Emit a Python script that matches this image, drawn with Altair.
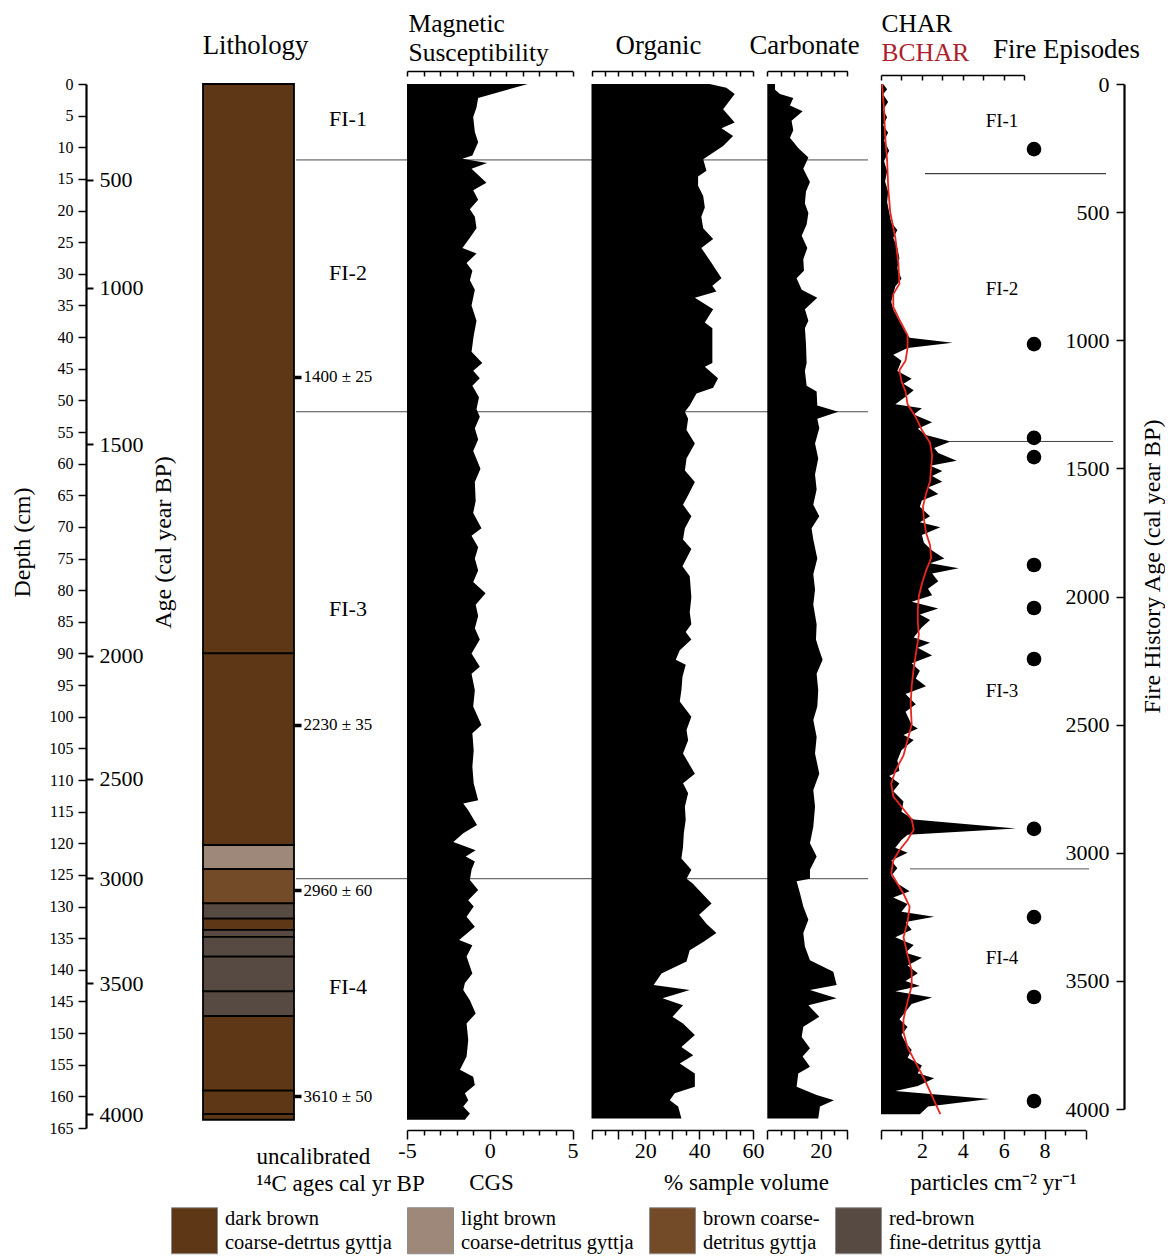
import altair as alt
import pandas as pd

FONT = "Liberation Serif"

# ---------------- data ----------------
depth_ticks = list(range(0, 166, 5))
age_tick_depths = [15.17, 32.24, 56.9, 90.4, 109.8, 125.5, 142.1, 162.8]
age_tick_labels = ["500", "1000", "1500", "2000", "2500", "3000", "3500", "4000"]
rc_depths = [46.3, 101.3, 127.4, 160.0]
rc_labels = ["1400 ± 25", "2230 ± 35", "2960 ± 60", "3610 ± 50"]
fire_age_ticks = list(range(0, 4001, 500))

lith_names = ["dark brown|coarse-detrtus gyttja", "light brown|coarse-detritus gyttja",
              "brown coarse-|detritus gyttja", "red-brown|fine-detritus gyttja"]
lith_colors = ["#5e3816", "#9d887a", "#744b29", "#574a42"]
lith_top = [0, 90.0, 120.3, 124.1, 129.5, 131.9, 133.7, 134.8, 137.9, 143.4, 147.3, 159.1, 162.8]
lith_bottom = [90.0, 120.3, 124.1, 129.5, 131.9, 133.7, 134.8, 137.9, 143.4, 147.3, 159.1, 162.8, 163.7]
lith_kind = [0, 0, 1, 2, 3, 0, 3, 3, 3, 3, 0, 0, 0]

zone_depths = [12.0, 51.8, 125.6]
zone_label_depths = [5.5, 29.9, 83.0, 142.7]
zone_labels = ["FI-1", "FI-2", "FI-3", "FI-4"]

ms_depth = [0, 2.2, 3.7, 5.2, 7.6, 9.2, 10.4, 11.3, 11.8, 12.5,
            13.4, 15.6, 16.8, 18.3, 19.8, 21.0, 22.8, 24.3, 25.9, 26.8,
            28.3, 29.5, 31.0, 32.5, 35.0, 37.4, 39.8, 42.3, 44.1, 45.3,
            46.5, 47.7, 49.5, 51.4, 52.6, 54.4, 56.2, 58.0, 60.8, 62.9,
            65.9, 67.8, 70.2, 71.4, 73.2, 75.0, 76.9, 78.7, 80.5, 82.3,
            84.1, 86.0, 87.8, 90.0, 92.1, 93.2, 95.8, 98.4, 101.3, 102.6,
            105.3, 107.9, 110.5, 113.2, 113.7, 114.8, 117.1, 118.4, 119.8, 121.1,
            122.1, 122.9, 124.2, 125.8, 127.4, 129.0, 130.0, 131.6, 133.2, 135.3,
            136.1, 137.9, 140.6, 142.1, 143.2, 144.8, 146.9, 148.5, 151.1, 153.7,
            155.8, 156.9, 158.2, 159.5, 160.6, 161.6, 162.7, 163.7]
ms_value = [2.3, -0.7, -0.8, -1.0, -0.9, -0.7, -0.9, -1.05, -1.65, -0.16,
            -1.1, -0.2, -1.0, -0.7, -1.2, -0.9, -0.8, -1.2, -1.65, -0.8,
            -1.4, -1.05, -1.2, -0.9, -1.1, -0.8, -0.97, -1.1, -0.45, -1.0,
            -0.6, -1.05, -0.65, -0.8, -0.6, -0.9, -0.7, -1.0, -0.56, -0.9,
            -0.85, -1.0, -0.5, -1.1, -0.7, -0.9, -0.7, -1.0, -0.25, -0.85,
            -0.7, -0.9, -0.6, -1.1, -0.6, -1.1, -0.9, -1.0, -0.5, -1.05,
            -0.97, -1.05, -0.97, -0.7, -1.6, -1.3, -0.77, -1.6, -2.2, -0.85,
            -1.45, -0.9, -1.1, -1.2, -0.7, -1.3, -0.97, -1.4, -0.9, -1.85,
            -1.05, -1.4, -1.05, -1.5, -1.6, -1.2, -0.85, -1.4, -1.3, -1.4,
            -1.8, -1.0, -0.9, -1.5, -1.3, -1.6, -1.2, -1.5]

org_depth = [0, 0.6, 1.6, 4.0, 6.1, 7.0, 8.2, 9.8, 11.9, 13.7,
             14.6, 16.1, 17.7, 19.5, 21.0, 22.8, 24.5, 25.9, 28.3, 30.7,
             31.9, 32.8, 33.8, 35.6, 37.7, 38.6, 40.7, 44.1, 44.7, 46.5,
             48.0, 48.9, 50.8, 51.8, 52.9, 54.7, 56.8, 59.2, 61.1, 62.9,
             65.0, 66.5, 68.3, 70.2, 72.0, 73.5, 76.2, 77.8, 81.1, 83.5,
             85.4, 86.6, 87.8, 89.5, 91.0, 91.8, 93.7, 95.8, 97.6, 100.0,
             102.1, 103.7, 105.8, 109.0, 110.5, 112.1, 114.2, 116.3, 118.4, 120.6,
             122.4, 124.2, 125.6, 126.3, 129.5, 131.3, 132.7, 134.2, 135.6, 136.9,
             138.7, 140.6, 142.4, 143.2, 144.5, 145.6, 147.4, 148.5, 150.3, 152.2,
             153.5, 154.8, 156.4, 158.5, 159.5, 160.6, 161.6, 163.5]
org_value = [43.9, 50.1, 53.2, 48.9, 53.2, 48.3, 52.6, 48.9, 41.5, 42.7,
             39.6, 39.6, 41.5, 42.1, 40.8, 41.5, 45.2, 40.8, 44.6, 48.3,
             44.9, 46.4, 38.4, 45.2, 42.1, 44.9, 44.9, 44.9, 42.1, 47.0,
             45.2, 39.0, 36.5, 34.7, 35.9, 35.3, 38.4, 35.3, 34.7, 38.4,
             35.9, 34.0, 37.1, 34.7, 34.0, 37.1, 33.8, 36.5, 37.1, 36.5,
             37.1, 35.0, 37.1, 32.8, 31.3, 35.0, 33.8, 33.4, 32.8, 37.1,
             35.3, 35.9, 34.0, 38.4, 34.0, 35.9, 34.7, 35.0, 34.3, 34.0,
             33.4, 37.1, 35.3, 37.5, 44.6, 40.0, 42.7, 46.4, 41.5, 36.5,
             35.3, 26.0, 23.1, 36.5, 26.4, 34.0, 30.1, 34.0, 38.4, 33.4,
             37.8, 32.8, 38.4, 38.4, 30.9, 29.1, 32.2, 33.4]

carb_depth = [0, 0.9, 1.6, 2.2, 3.4, 4.3, 5.8, 7.3, 8.5, 10.1,
              11.6, 13.4, 15.5, 17.0, 18.9, 20.4, 22.2, 24.0, 25.9, 27.7,
              29.5, 30.7, 32.5, 33.8, 35.6, 37.4, 38.6, 41.0, 44.1, 45.3,
              47.7, 48.6, 50.8, 51.8, 52.9, 54.4, 56.8, 59.2, 61.7, 64.1,
              66.5, 68.3, 70.2, 72.0, 75.0, 77.5, 79.9, 82.3, 85.4, 87.8,
              89.5, 91.0, 93.2, 95.8, 98.4, 100.5, 103.2, 105.8, 109.0, 111.6,
              114.2, 117.4, 120.0, 122.1, 124.2, 125.6, 126.0, 127.9, 130.0, 132.1,
              134.2, 136.3, 138.5, 140.3, 142.4, 143.2, 144.5, 145.6, 147.4, 149.0,
              150.6, 152.4, 153.7, 155.3, 156.4, 158.5, 159.8, 160.6, 161.6, 163.5]
carb_value = [2.9, 2.9, 4.75, 9.75, 8.5, 13.25, 9.1, 9.75, 8.5, 11.6,
              15.4, 13.5, 16.0, 14.5, 14.1, 15.4, 14.75, 12.9, 15.0, 13.5,
              13.75, 11.0, 12.9, 18.75, 14.1, 15.4, 14.1, 14.5, 14.75, 14.1,
              14.75, 18.5, 18.75, 26.6, 18.75, 19.5, 17.9, 19.1, 17.9, 18.5,
              17.25, 19.5, 16.6, 17.25, 18.75, 17.25, 17.9, 17.25, 18.5, 18.25,
              19.5, 20.75, 18.5, 19.1, 18.75, 17.25, 18.5, 17.9, 19.5, 17.25,
              17.9, 17.25, 16.0, 18.5, 16.0, 16.0, 11.0, 12.25, 13.5, 15.4,
              13.5, 14.1, 16.0, 24.75, 26.0, 16.0, 26.0, 15.4, 19.5, 13.5,
              12.9, 16.0, 13.25, 16.0, 11.6, 11.0, 18.5, 25.0, 19.75, 19.1]

char_age = [0, 20, 40, 70, 100, 130, 160, 190, 220, 260,
            300, 340, 380, 420, 460, 500, 540, 570, 600, 640,
            680, 720, 760, 790, 820, 850, 880, 910, 940, 970,
            990, 1010, 1030, 1057, 1080, 1100, 1120, 1150, 1170, 1195,
            1220, 1250, 1265, 1290, 1320, 1345, 1370, 1395, 1420, 1440,
            1470, 1490, 1510, 1530, 1552, 1575, 1600, 1625, 1650, 1687,
            1710, 1730, 1760, 1790, 1820, 1852, 1870, 1890, 1910, 1940,
            1970, 1995, 2020, 2047, 2070, 2092, 2120, 2160, 2180, 2200,
            2230, 2260, 2290, 2320, 2350, 2380, 2420, 2450, 2500, 2515,
            2540, 2560, 2600, 2640, 2680, 2700, 2730, 2760, 2800, 2840,
            2870, 2905, 2930, 2950, 2980, 3000, 3030, 3060, 3090, 3120,
            3150, 3175, 3200, 3230, 3250, 3270, 3300, 3330, 3360, 3390,
            3410, 3440, 3470, 3500, 3520, 3540, 3565, 3590, 3620, 3650,
            3680, 3710, 3740, 3770, 3800, 3830, 3860, 3880, 3910, 3930,
            3961, 3990, 4020]
char_value = [0.1, 0.3, 0.1, 0.35, 0.1, 0.3, 0.1, 0.35, 0.15, 0.4,
              0.15, 0.3, 0.2, 0.35, 0.3, 0.4, 0.5, 0.8, 0.6, 0.8,
              0.9, 0.8, 1.0, 0.7, 0.6, 0.5, 0.6, 0.8, 1.0, 1.2,
              1.4, 3.5, 1.3, 0.6, 1.0, 0.9, 0.8, 1.5, 1.1, 1.6,
              1.2, 0.7, 2.0, 1.6, 2.5, 1.8, 2.2, 3.4, 2.6, 2.8,
              3.7, 2.4, 3.0, 2.5, 3.0, 2.3, 2.8, 2.0, 1.9, 2.4,
              1.9, 2.9, 2.0, 2.1, 2.5, 3.1, 2.4, 3.8, 2.5, 2.8,
              2.3, 2.5, 1.5, 2.8, 1.9, 2.4, 2.0, 1.6, 2.4, 1.8,
              2.5, 1.5, 1.9, 1.7, 2.2, 1.2, 1.7, 1.2, 1.5, 1.8,
              1.1, 1.6, 1.0, 0.8, 0.9, 0.4, 0.9, 0.6, 1.1, 1.0,
              1.6, 6.6, 1.3, 1.0, 0.7, 1.3, 0.5, 0.8, 0.5, 0.8,
              1.4, 0.6, 1.3, 1.0, 2.6, 1.2, 1.5, 0.7, 1.6, 1.2,
              2.0, 1.3, 1.8, 1.2, 1.9, 0.7, 2.5, 1.5, 1.2, 0.9,
              1.3, 1.0, 1.2, 1.5, 1.3, 2.0, 1.8, 2.6, 1.8, 0.7,
              5.3, 2.3, 1.9]

bchar_age = [0, 100, 200, 300, 400, 500, 600, 700, 780, 820,
             870, 920, 980, 1030, 1080, 1117, 1160, 1200, 1250, 1300,
             1350, 1400, 1450, 1500, 1550, 1600, 1650, 1700, 1750, 1800,
             1850, 1900, 1950, 2000, 2050, 2100, 2150, 2200, 2280, 2350,
             2420, 2500, 2560, 2620, 2680, 2730, 2780, 2830, 2870, 2910,
             2950, 2990, 3030, 3080, 3120, 3160, 3210, 3270, 3330, 3400,
             3460, 3520, 3580, 3650, 3700, 3760, 3820, 3880, 3950, 4020]
bchar_value = [0.05, 0.15, 0.2, 0.3, 0.35, 0.45, 0.7, 0.85, 0.9, 0.6,
               0.6, 0.9, 1.3, 1.3, 1.2, 0.9, 1.0, 1.2, 1.3, 1.7,
               2.0, 2.4, 2.5, 2.45, 2.4, 2.2, 2.05, 2.1, 2.2, 2.4,
               2.45, 2.2, 2.0, 1.85, 1.8, 1.8, 1.85, 1.75, 1.6, 1.5,
               1.45, 1.5, 1.3, 1.1, 0.7, 0.5, 0.6, 1.1, 1.5, 1.6,
               1.3, 0.9, 0.6, 0.5, 0.8, 1.1, 1.4, 1.3, 1.1, 1.3,
               1.5, 1.5, 1.3, 1.1, 1.1, 1.3, 1.7, 2.1, 2.5, 2.9]

fire_episode_ages = [254, 1015, 1381, 1456, 1877, 2045, 2244, 2907, 3251, 3563, 3969]
char_zone_ages = [350, 1395, 3063]
char_zone_label_ages = [144, 800, 2368, 3410]

# ---------------- layout helpers ----------------
W, H = 1038, 1044
OX, OY = 86, 84
HEAD = 26.8   # heading font size
HEAD2 = 25.5  # font size of stacked two-line headings


def px(x):
    return x - OX


def py(y):
    return y - OY


def lin(domain, rng):
    return alt.Scale(domain=domain, range=rng, nice=False, zero=False)


depth_scale = lin([0, 165], [0, H])
age_scale = lin([0, 4000], [0, py(1109)])
lith_scale = lin([0, 1], [px(203), px(294)])
ms_scale = lin([-5, 5], [px(407), px(572.5)])
org_scale = lin([0, 60], [px(591.5), px(753)])
carb_scale = lin([0, 30], [px(767.3), px(847.3)])
char_scale = lin([0, 10], [px(881), px(1085.5)])
char_top_scale = lin([0, 7], [px(881), px(1024)])

AX = dict(grid=False, labelFont=FONT, titleFont=FONT, titleFontWeight="normal",
          domainColor="black", tickColor="black", labelColor="black",
          labelFlush=False, labelOverlap=False)

TOP_OFF = -(H + 13)      # axis line at page y 71
CHAR_TOP_OFF = -(H + 9)  # axis line at page y 75


def axis(**kw):
    d = dict(AX)
    d.setdefault("titleColor", "black")
    d.update(kw)
    return alt.Axis(**d)


def top_axis(values, offset=TOP_OFF, size=HEAD, **kw):
    return axis(orient="bottom", offset=offset, values=values, labels=False,
                tickSize=5, tickWidth=1.5, domainWidth=1.5, titleFontSize=size,
                titleBaseline="alphabetic", titleAngle=0, **kw)


def title_axis(title, tx, ty, offset=TOP_OFF, size=HEAD, **kw):
    return axis(orient="bottom", offset=offset, domain=False, ticks=False, labels=False,
                title=title, titleX=tx, titleY=ty, titleFontSize=size,
                titleBaseline="alphabetic", titleAngle=0, **kw)


def bottom_axis(values, label_test, major_test, title=None, tx=0):
    kw = dict(orient="bottom", offset=2, values=values,
              labelExpr=f"({label_test}) ? toString(datum.value) : ''",
              tickSize={"condition": {"test": major_test, "value": 9}, "value": 5},
              tickWidth=1.5, domainWidth=1.5, labelFontSize=22, labelPadding=1)
    if title is None:
        kw["title"] = None
    else:
        kw.update(title=title, titleX=tx, titleY=59, titleFontSize=23,
                  titleBaseline="alphabetic", titleAngle=0)
    return axis(**kw)


def lookup_expr(keys, labels):
    s = "".join(f"abs(datum.value - {k}) < 0.05 ? '{l}' : " for k, l in zip(keys, labels))
    return s + "''"


dummy_df = pd.DataFrame({"v": [0.0]})


def carrier(scale, ax):
    return alt.Chart(dummy_df).mark_point(opacity=0, size=1).encode(
        x=alt.X("v:Q", scale=scale, axis=ax))


# ---------------- axes ----------------
depth_axis = axis(orient="left", values=depth_ticks, tickSize=8, tickWidth=1.5,
                  domainWidth=2.2, labelFontSize=16, labelPadding=5,
                  title="Depth (cm)", titleFontSize=24, titleAngle=270,
                  titleX=px(22), titleY=py(542), titleAlign="center", titleBaseline="middle")
age_axis = axis(orient="right", offset=-W, values=age_tick_depths,
                labelExpr=lookup_expr(age_tick_depths, age_tick_labels),
                domain=False, tickSize=7, tickWidth=2, labelFontSize=22, labelPadding=6,
                title="Age (cal year BP)", titleFontSize=24, titleAngle=270,
                titleX=px(163), titleY=py(542), titleAlign="center", titleBaseline="middle")
rc_axis = axis(orient="right", offset=px(294) - W, values=rc_depths,
               labelExpr=lookup_expr(rc_depths, rc_labels), domain=False,
               tickSize=7, tickWidth=3.5, labelFontSize=17, labelPadding=2, title=None)
fire_axis = axis(orient="left", offset=-W, values=fire_age_ticks, format="d",
                 tickSize=8, tickWidth=1.5,
                 domainWidth=2.2, labelFontSize=22, labelPadding=7,
                 title="Fire History Age (cal year BP)", titleFontSize=24, titleAngle=270,
                 titleX=28, titleY=py(566), titleAlign="center", titleBaseline="middle")

# ---------------- layers ----------------
layers = []

zone_df = pd.DataFrame({"depth": zone_depths})
layers.append(alt.Chart(zone_df).mark_rule(color="#4a4a4a", strokeWidth=1).encode(
    y=alt.Y("depth:Q", scale=depth_scale, axis=None),
    x=alt.value(px(296)), x2=alt.value(px(868))))

# Magnetic susceptibility
ms_df = pd.DataFrame({"depth": ms_depth, "ms": ms_value})
layers.append(alt.Chart(ms_df).mark_area(orient="horizontal", color="black").encode(
    y=alt.Y("depth:Q", scale=depth_scale, axis=depth_axis),
    x=alt.X("ms:Q", scale=ms_scale,
            axis=bottom_axis(list(range(-5, 6)), "datum.value % 5 === 0",
                             "datum.value % 5 === 0", "CGS", px(491))),
    x2=alt.X2Datum(-5)))
layers.append(carrier(ms_scale, top_axis(list(range(-5, 6)), size=HEAD2,
                                         title=["Magnetic", "Susceptibility"],
                                         titleX=px(408), titleY=-40, titleAlign="left",
                                         titleLineHeight=29)))

# Organic
org_df = pd.DataFrame({"depth": org_depth, "org": org_value})
layers.append(alt.Chart(org_df).mark_area(orient="horizontal", color="black").encode(
    y=alt.Y("depth:Q", scale=depth_scale, axis=age_axis),
    x=alt.X("org:Q", scale=org_scale,
            axis=bottom_axis(list(range(0, 61, 5)), "datum.value > 0 && datum.value % 20 === 0",
                             "datum.value % 10 === 0", "% sample volume", px(746))),
    x2=alt.X2Datum(0)))
layers.append(carrier(org_scale, top_axis(list(range(0, 61, 5)), title="Organic",
                                          titleX=px(658), titleY=-18, titleAlign="center")))

# Carbonate
carb_df = pd.DataFrame({"depth": carb_depth, "carb": carb_value})
layers.append(alt.Chart(carb_df).mark_area(orient="horizontal", color="black").encode(
    y=alt.Y("depth:Q", scale=depth_scale, axis=rc_axis),
    x=alt.X("carb:Q", scale=carb_scale,
            axis=bottom_axis(list(range(0, 31, 5)), "datum.value === 20",
                             "datum.value % 10 === 0")),
    x2=alt.X2Datum(0)))
layers.append(carrier(carb_scale, top_axis(list(range(0, 31, 5)), title="Carbonate",
                                           titleX=px(804), titleY=-18, titleAlign="center")))

# Lithology
lith_df = pd.DataFrame({"top": lith_top, "bottom": lith_bottom,
                        "type": [lith_names[k] for k in lith_kind]})
legend = alt.Legend(orient="none", legendX=px(171), legendY=py(1207), direction="horizontal",
                    columns=4, columnPadding=13, title=None, symbolType="square",
                    symbolSize=2116, symbolStrokeColor="#8c8c8c", symbolStrokeWidth=1,
                    labelFont=FONT, labelFontSize=20.5, labelColor="black", labelLimit=400,
                    labelOffset=7, labelBaseline="line-bottom",
                    labelExpr="split(datum.label, '|')", padding=0)
layers.append(alt.Chart(lith_df).mark_rect(stroke="black", strokeWidth=1.8).encode(
    x=alt.XDatum(0, type="quantitative", scale=lith_scale,
                 axis=title_axis("Lithology", px(255), -18, titleAlign="center")),
    x2=alt.X2Datum(1),
    y=alt.Y("top:Q", scale=depth_scale, axis=None),
    y2="bottom:Q",
    color=alt.Color("type:N", scale=alt.Scale(domain=lith_names, range=lith_colors),
                    legend=legend)))
layers.append(carrier(lith_scale, title_axis(["uncalibrated", "¹⁴C ages cal yr BP"],
                                             px(256), 33, offset=2, size=23,
                                             titleAlign="left", titleLineHeight=27)))

# zone labels (left)
zl_df = pd.DataFrame({"depth": zone_label_depths, "label": zone_labels})
layers.append(alt.Chart(zl_df).mark_text(font=FONT, fontSize=22, color="black").encode(
    y=alt.Y("depth:Q", scale=depth_scale, axis=None),
    x=alt.value(px(348)), text="label:N"))

# CHAR panel
char_zone_x = [(925, 1106), (950, 1113), (910, 1089)]
char_zone_col = ["#111111", "#444444", "#555555"]
for a, (x0, x1), c in zip(char_zone_ages, char_zone_x, char_zone_col):
    layers.append(alt.Chart(pd.DataFrame({"age": [a]})).mark_rule(color=c, strokeWidth=1).encode(
        y=alt.Y("age:Q", scale=age_scale, axis=None),
        x=alt.value(px(x0)), x2=alt.value(px(x1))))

char_df = pd.DataFrame({"age": char_age, "char": char_value})
layers.append(alt.Chart(char_df).mark_area(orient="horizontal", color="black").encode(
    y=alt.Y("age:Q", scale=age_scale, axis=fire_axis),
    x=alt.X("char:Q", scale=char_scale,
            axis=bottom_axis(list(range(0, 11)),
                             "datum.value > 0 && datum.value < 10 && datum.value % 2 === 0",
                             "datum.value % 2 === 0", "particles cm⁻² yr⁻¹", px(993))),
    x2=alt.X2Datum(0)))
layers.append(carrier(char_top_scale, top_axis(list(range(0, 8)), offset=CHAR_TOP_OFF,
                                               size=HEAD2, title="CHAR", titleX=px(881),
                                               titleY=-44, titleAlign="left")))

bchar_df = pd.DataFrame({"age": bchar_age, "bchar": bchar_value})
layers.append(alt.Chart(bchar_df).mark_line(color="#e8261e", strokeWidth=1.8).encode(
    y=alt.Y("age:Q", scale=age_scale, axis=None),
    x=alt.X("bchar:Q", scale=char_scale,
            axis=title_axis("BCHAR", px(881), -15, offset=CHAR_TOP_OFF, size=HEAD2,
                            titleAlign="left", titleColor="#ad1f2d")),
    order=alt.Order("age:Q")))

fe_df = pd.DataFrame({"age": fire_episode_ages})
layers.append(alt.Chart(fe_df).mark_circle(size=215, color="black", opacity=1).encode(
    y=alt.Y("age:Q", scale=age_scale, axis=None),
    x=alt.value(px(1034))))
layers.append(carrier(char_scale, title_axis("Fire Episodes", px(1066), -18,
                                             offset=CHAR_TOP_OFF, titleAlign="center")))

czl_df = pd.DataFrame({"age": char_zone_label_ages, "label": zone_labels})
layers.append(alt.Chart(czl_df).mark_text(font=FONT, fontSize=19, color="black").encode(
    y=alt.Y("age:Q", scale=age_scale, axis=None),
    x=alt.value(px(1002)), text="label:N"))

chart = (
    alt.layer(*layers)
    .resolve_scale(x="independent", y="independent")
    .properties(width=W, height=H,
                autosize=alt.AutoSizeParams(type="none"),
                padding={"left": 78, "top": 76, "right": 41, "bottom": 130})
    .configure(font=FONT, style={"guide-label": {"lineHeight": 24}})
    .configure_view(stroke=None)
)

chart.save("out.html", embed_options={"renderer": "svg", "actions": False})
